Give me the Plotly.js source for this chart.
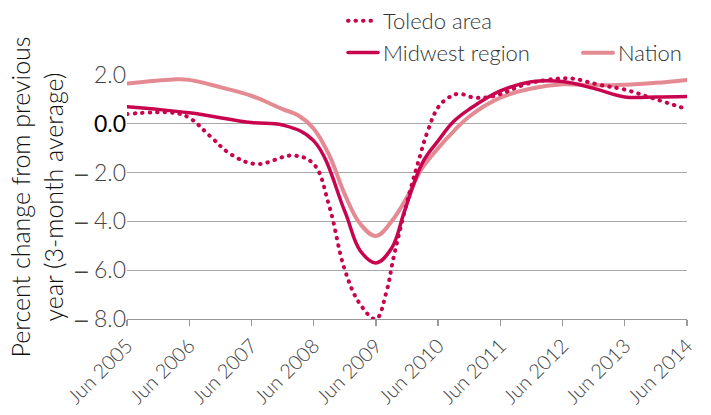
<!DOCTYPE html>
<html><head><meta charset="utf-8">
<script src="https://cdn.plot.ly/plotly-3.0.1.min.js"></script>
<style>html,body{margin:0;padding:0;background:#fff}#c{width:711px;height:415px}
path.js-line{stroke-linecap:round}</style>
</head><body><div id="c"></div>
<script>
// Data (percent change from previous year, 3-month average)
const toledoDates = ["2005-06-01","2006-03-01","2006-06-01","2006-10-01","2007-02-01","2007-07-01","2008-02-01","2008-06-01","2008-09-01","2008-12-01","2009-03-01","2009-06-01","2009-08-01","2009-09-15","2009-12-01","2010-02-01","2010-04-01","2010-06-01","2010-08-01","2010-10-01","2011-01-01","2011-05-01","2011-11-01","2012-05-01","2012-08-01","2013-01-01","2013-06-01","2013-11-01","2014-06-01"];
const toledoValues = [0.4,0.45,0.25,-0.5,-1.25,-1.65,-1.3,-1.65,-3.4,-6.0,-7.4,-8.0,-6.9,-5.4,-3.2,-1.65,-0.3,0.67,1.07,1.23,1.07,1.15,1.63,1.85,1.85,1.6,1.4,1.07,0.6];

const midwestDates = ["2005-06-01","2006-06-01","2007-06-01","2007-12-01","2008-06-01","2008-12-01","2009-03-01","2009-06-01","2009-09-01","2009-11-15","2010-03-01","2010-06-01","2010-09-01","2010-12-01","2011-06-01","2011-12-01","2012-06-01","2012-12-01","2013-06-01","2013-12-01","2014-06-01"];
const midwestValues = [0.7,0.45,0.05,-0.05,-0.7,-3.6,-5.2,-5.7,-5.1,-3.6,-1.6,-0.7,0.1,0.6,1.35,1.72,1.73,1.45,1.1,1.1,1.12];

const nationDates = ["2005-06-01","2006-03-01","2006-06-01","2006-12-01","2007-06-01","2007-12-01","2008-03-01","2008-06-01","2008-09-01","2008-12-01","2009-03-01","2009-06-01","2009-09-01","2009-12-01","2010-03-01","2010-06-01","2010-09-01","2010-12-01","2011-06-01","2011-12-01","2012-06-01","2012-12-01","2013-06-01","2013-12-01","2014-06-01"];
const nationValues = [1.65,1.82,1.8,1.5,1.15,0.6,0.35,-0.2,-1.3,-2.9,-4.1,-4.6,-4.0,-3.0,-1.8,-1.0,-0.3,0.3,1.07,1.45,1.62,1.58,1.6,1.68,1.8];

const xTickVals = ["2005-06-01","2006-06-01","2007-06-01","2008-06-01","2009-06-01","2010-06-01","2011-06-01","2012-06-01","2013-06-01","2014-06-01"];
const xTickText = ["Jun 2005","Jun 2006","Jun 2007","Jun 2008","Jun 2009","Jun 2010","Jun 2011","Jun 2012","Jun 2013","Jun 2014"];
const yTickVals = [2,0,-2,-4,-6,-8];
const DASH = "<span style='font-family:Liberation Sans;font-weight:400'>–</span>";
const yTickText = ["2.0","<span style='color:#000;font-weight:400'>0.0</span>",
  DASH + " 2.0", DASH + " 4.0", DASH + " 6.0", DASH + " 8.0"];

const FONT = "Lato, 'Open Sans', sans-serif";
const dark = "#c9044f", light = "#e48a93";
const dotDash = "0.5px,7px";

const traces = [
  {x: nationDates, y: nationValues, name: "Nation", mode: "lines",
   line: {color: light, width: 4, shape: "spline", smoothing: 1.1}, legend: "legend2"},
  {x: midwestDates, y: midwestValues, name: "Midwest region", mode: "lines",
   line: {color: dark, width: 3.5, shape: "spline", smoothing: 1.1}, legend: "legend", legendrank: 2},
  {x: toledoDates, y: toledoValues, name: "Toledo area", mode: "lines",
   line: {color: dark, width: 4, dash: dotDash, shape: "spline", smoothing: 1.1}, legend: "legend", legendrank: 1, cliponaxis: false}
];

const L = 127, R = 24, T = 75, B = 96;
const pw = 711 - L - R, ph = 415 - T - B;
const legFont = {size: 22, color: "#333", family: FONT, weight: 300};

const layout = {
  width: 711, height: 415,
  margin: {l: L, r: R, t: T, b: B, autoexpand: false},
  paper_bgcolor: "#fff", plot_bgcolor: "#fff",
  font: {family: FONT, color: "#444", size: 22, weight: 300},
  xaxis: {
    type: "date", range: ["2005-06-01","2014-06-01"],
    tickmode: "array", tickvals: xTickVals, ticktext: xTickText, tickangle: -45,
    ticks: "outside", ticklen: 6, tickcolor: "#999", tickwidth: 1.2,
    showline: true, linecolor: "#999", linewidth: 1.2, showgrid: false, zeroline: false,
    tickfont: {size: 20, color: "#444", family: FONT, weight: 300}
  },
  yaxis: {
    range: [-8.0, 2.0], tickmode: "array", tickvals: yTickVals, ticktext: yTickText,
    showgrid: true, gridcolor: "#a8a8a8", gridwidth: 1.2, zeroline: false, showline: false,
    ticks: "", ticklabelstandoff: 0,
    tickfont: {size: 23, color: "#444", family: FONT, weight: 300},
    title: {text: "Percent change from previous<br>year (3-month average)", standoff: 4,
            font: {size: 25, color: "#111", family: FONT, weight: 300}}
  },
  legend: {x: (343 - L) / pw, y: (415 - B) / ph, xanchor: "left", yanchor: "top",
    orientation: "v", font: legFont, bgcolor: "rgba(0,0,0,0)", traceorder: "normal"},
  legend2: {x: (578 - L) / pw, y: (415 - B - 32) / ph, xanchor: "left", yanchor: "top",
    font: legFont, bgcolor: "rgba(0,0,0,0)"},
  showlegend: true
};

Plotly.newPlot("c", traces, layout, {displayModeBar: false, staticPlot: true});
</script></body></html>
